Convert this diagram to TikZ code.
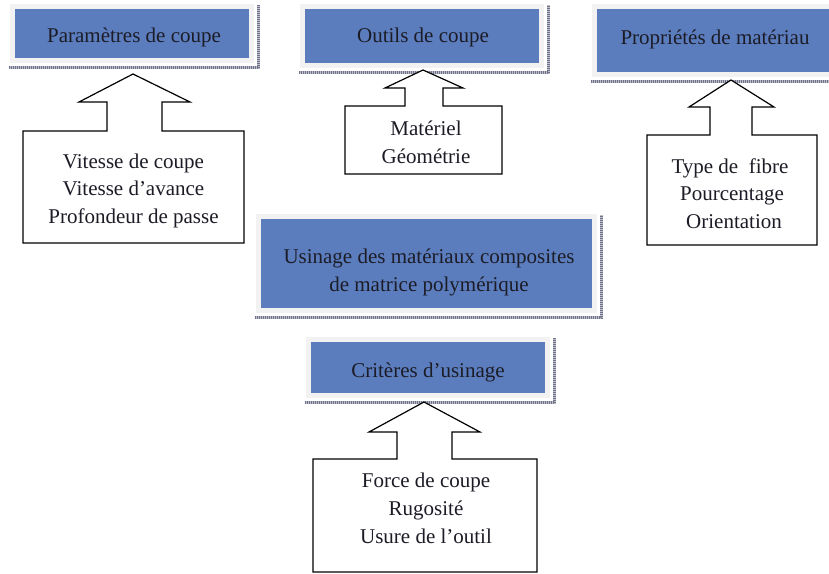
\documentclass[tikz,border=0pt]{standalone}
\usepackage{fontspec}
\setmainfont{Liberation Serif}
\usetikzlibrary{calc}
\definecolor{boxblue}{RGB}{91,125,190}
\definecolor{framegray}{RGB}{242,242,242}
\definecolor{shadowc}{RGB}{112,114,140}
\definecolor{shadowbg}{RGB}{190,190,200}
\definecolor{txt}{RGB}{28,28,38}
\begin{document}
\begin{tikzpicture}[x=1pt,y=-1pt,
  bluebox/.style={fill=boxblue, draw=framegray, line width=5pt, inner sep=0pt},
  shadowbase/.style={draw=shadowbg, line width=2.4pt},
  shadowline/.style={draw=shadowc, line width=2.4pt, dash pattern=on 1pt off 1pt},
  callout/.style={draw=black, line width=1.2pt, fill=white, line join=miter},
  lbl/.style={font=\fontsize{21}{27.5}\selectfont, text=txt, inner sep=0pt, anchor=base}]
\useasboundingbox (0,0) rectangle (829,573);
\clip (0,0) rectangle (829,573);
\fill[white] (0,0) rectangle (829,573);

% ---- blue header boxes ----
\node[bluebox, minimum width=239pt, minimum height=54pt] (b1) at (132,33.5) {};
\node[bluebox, minimum width=239pt, minimum height=59pt] (b2) at (422,36) {};
\node[bluebox, minimum width=253pt, minimum height=68pt] (b3) at (721,40.5) {};
\node[bluebox, minimum width=336pt, minimum height=94pt] (b4) at (426.5,263.5) {};
\node[bluebox, minimum width=239pt, minimum height=56pt] (b5) at (428,367.5) {};

\foreach \b in {b1,b2,b3,b4,b5}{
  \draw[shadowbase] ($(\b.south west)+(-1.5,4.5)$) -- ($(\b.south east)+(4.5,4.5)$) -- ($(\b.north east)+(4.5,1)$);
  \draw[shadowline] ($(\b.south west)+(-1.5,4.5)$) -- ($(\b.south east)+(4.5,4.5)$) -- ($(\b.north east)+(4.5,1)$);
}

\node[lbl] (t1) at (134,42) {Paramètres de coupe};
\node[lbl] (t2) at (423,42) {Outils de coupe};
\node[lbl] (t3) at (715,44) {Propriétés de matériau};
\node[lbl] (t4a) at (429,263) {Usinage des matériaux composites};
\node[lbl] (t4b) at (429,291) {de matrice polymérique};
\node[lbl] (t5) at (428,377) {Critères d’usinage};

% ---- up-arrow callouts ----
\coordinate (tip1) at (133,74);
\draw[callout] (23,243) -- (23,131) -- (107,131) -- (107,102) -- (79,102) -- (tip1)
  -- (190,102) -- (162,102) -- (162,131) -- (244,131) -- (244,243) -- cycle;
\node[lbl] (c1a) at (133.5,168) {Vitesse de coupe};
\node[lbl] (c1b) at (133.5,195.5) {Vitesse d’avance};
\node[lbl] (c1c) at (133.5,223) {Profondeur de passe};

\coordinate (tip2) at (423,70);
\draw[callout] (345,174) -- (345,106) -- (405,106) -- (405,88) -- (385,88) -- (tip2)
  -- (463,88) -- (443,88) -- (443,106) -- (502,106) -- (502,174) -- cycle;
\node[lbl] (c2a) at (426,135) {Matériel};
\node[lbl] (c2b) at (426,163) {Géométrie};

\coordinate (tip3) at (731,80);
\draw[callout] (647,245) -- (647,135) -- (710,135) -- (710,107) -- (689,107) -- (tip3)
  -- (774,107) -- (752,107) -- (752,135) -- (817,135) -- (817,245) -- cycle;
\node[lbl] (c3a) at (730,173) {Type de\ \ fibre};
\node[lbl] (c3b) at (732,200.5) {Pourcentage};
\node[lbl] (c3c) at (734,228) {Orientation};

\coordinate (tip5) at (424,402);
\draw[callout] (313,572) -- (313,459) -- (397,459) -- (397,432) -- (369,432) -- (tip5)
  -- (480,432) -- (452,432) -- (452,459) -- (537,459) -- (537,572) -- cycle;
\node[lbl] (c5a) at (426,487) {Force de coupe};
\node[lbl] (c5b) at (426,515) {Rugosité};
\node[lbl] (c5c) at (426,543) {Usure de l’outil};
\end{tikzpicture}
\end{document}
